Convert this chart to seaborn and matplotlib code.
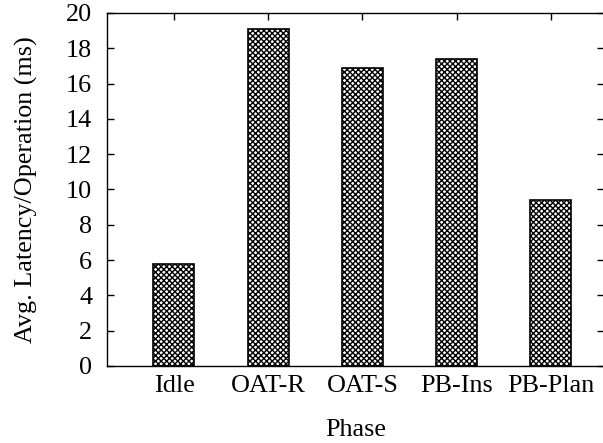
import matplotlib
matplotlib.use("Agg")
import matplotlib.pyplot as plt
import seaborn as sns
import pandas as pd

phases = ["Idle", "OAT-R", "OAT-S", "PB-Ins", "PB-Plan"]
latency = [5.8, 19.1, 16.9, 17.4, 9.4]
yticks = [0, 2, 4, 6, 8, 10, 12, 14, 16, 18, 20]

sns.set_style("ticks")
plt.rcParams["font.family"] = ["Liberation Serif", "DejaVu Serif"]
plt.rcParams["hatch.linewidth"] = 1.0
plt.rcParams["hatch.color"] = "black"
plt.rcParams["text.color"] = "black"
plt.rcParams["axes.labelcolor"] = "black"

FS = 18.8

df = pd.DataFrame({"Phase": phases, "Latency": latency})

fig = plt.figure(figsize=(6.03, 4.43), dpi=100)
ax = fig.add_axes([107 / 603, 77 / 443, 497 / 603, 353 / 443])

sns.barplot(data=df, x="Phase", y="Latency", ax=ax, color="white",
            edgecolor="black", linewidth=1.2, width=0.435, saturation=1)
for p in ax.patches:
    p.set_hatch("xxxxxx")
    p.set_facecolor("white")
    p.set_edgecolor("black")

ax.set_xlim(-0.711, 4.565)
ax.set_ylim(0, 20)
ax.set_yticks(yticks)
ax.set_yticklabels([str(v) for v in yticks])

for s in ax.spines.values():
    s.set_visible(True)
    s.set_linewidth(1.0)
    s.set_color("black")

ax.tick_params(axis="y", direction="in", length=5, width=1, left=True, right=True,
               labelsize=FS, pad=10.6, colors="black")
ax.tick_params(axis="x", direction="in", length=5, width=1, bottom=False, top=True,
               labelsize=FS, pad=6.5, colors="black")
ax.set_xlabel("Phase", fontsize=FS, labelpad=16, color="black")
ax.set_ylabel("Avg. Latency/Operation (ms)", fontsize=FS, labelpad=20.5, color="black")

fig.savefig("out.png", dpi=100)
